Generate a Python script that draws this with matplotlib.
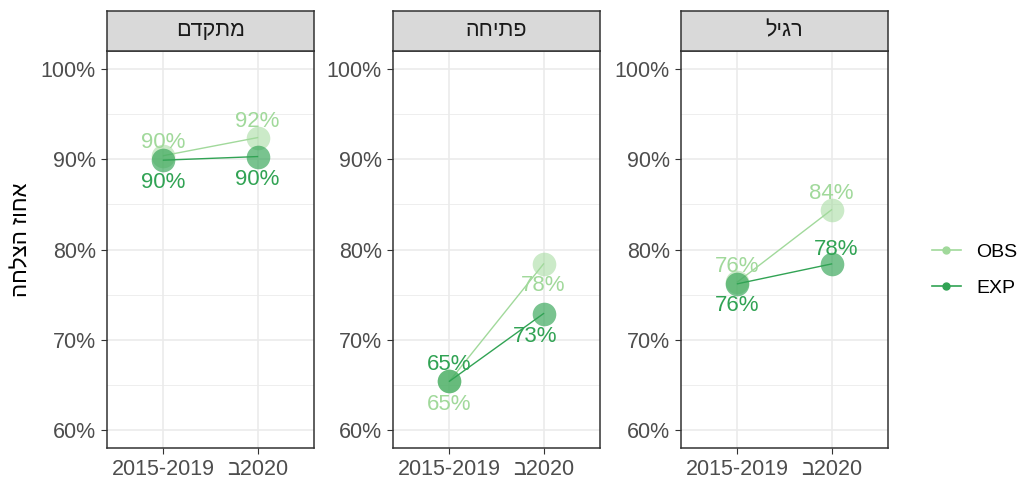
"""Success rate by track: observed vs expected, 2015-2019 vs 2020."""

import matplotlib
matplotlib.use("Agg")
import matplotlib.pyplot as plt
from matplotlib.lines import Line2D

plt.rcParams["font.family"] = ["Liberation Sans", "DejaVu Sans"]

# data (Hebrew strings stored in logical order)
panels = ["מתקדם", "פתיחה", "רגיל"]
periods = ["2015-2019", "\u05d1" + "2020"]  # "ב2020", drawn as-is like the reference
obs = [[90.4, 92.4], [65.4, 78.4], [76.4, 84.4]]
exp = [[89.9, 90.3], [65.4, 72.9], [76.2, 78.4]]
y_ticks = [60, 70, 80, 90, 100]
y_title = "אחוז הצלחה"

# label nudges in pixels (dx, dy), positive dy = downwards
obs_nudge = [[(0, -13), (0, -16)], [(0, 23), (0, 22)], [(0, -15), (0, -16)]]
exp_nudge = [[(0, 22), (0, 23)], [(0, -17), (-8, 23)], [(0, 22), (5, -14)]]

C_OBS = "#a1d99b"
C_EXP = "#31a354"
GRID = "#ebebeb"
TXT = "#4d4d4d"

W, H = 1028, 482
fig = plt.figure(figsize=(W / 100, H / 100), dpi=100)

lefts = [107, 393, 681]
pw = 207
top, bottom, strip_top = 51, 448, 11


def rtl(s):
    # matplotlib has no bidi: reverse so it reads right-to-left
    return s[::-1]


for k, name in enumerate(panels):
    ax = fig.add_axes([lefts[k] / W, 1 - bottom / H, pw / W, (bottom - top) / H])
    ax.set_xlim(0.4, 2.6)
    ax.set_ylim(58, 102)
    for y in range(65, 100, 10):
        ax.axhline(y, color=GRID, lw=0.6, zorder=0)
    for y in y_ticks:
        ax.axhline(y, color=GRID, lw=1.2, zorder=0)
    for x in (1, 2):
        ax.axvline(x, color=GRID, lw=1.2, zorder=0)

    xs = [1, 2]
    ax.plot(xs, obs[k], color=C_OBS, lw=1.0, zorder=2)
    ax.plot(xs, obs[k], "o", color=C_OBS, ms=17, alpha=0.55, mec="none", zorder=2)
    ax.plot(xs, exp[k], color=C_EXP, lw=1.0, zorder=3)
    ax.plot(xs, exp[k], "o", color=C_EXP, ms=17, alpha=0.65, mec="none", zorder=3)

    for vals, nud, col in ((obs[k], obs_nudge[k], C_OBS), (exp[k], exp_nudge[k], C_EXP)):
        for x, v, (dx, dy) in zip(xs, vals, nud):
            ax.annotate(f"{round(v)}%", (x, v), xytext=(dx * 0.72, -dy * 0.72),
                        textcoords="offset points", ha="center", va="center",
                        color=col, fontsize=16, zorder=4)

    ax.set_yticks(y_ticks)
    ax.set_yticklabels([f"{t}%" for t in y_ticks])
    ax.set_xticks(xs)
    ax.set_xticklabels(periods)
    ax.tick_params(colors="#333333", labelcolor=TXT, labelsize=15.5, length=4,
                   width=0.8, pad=4)
    for s in ax.spines.values():
        s.set_color("#333333")
        s.set_linewidth(1.1)

    # facet strip
    sax = fig.add_axes([lefts[k] / W, 1 - top / H, pw / W, (top - strip_top) / H])
    sax.set_xticks([])
    sax.set_yticks([])
    sax.set_facecolor("#d9d9d9")
    for s in sax.spines.values():
        s.set_color("#333333")
        s.set_linewidth(1.1)
    sax.text(0.5, 0.5, rtl(name), ha="center", va="center", fontsize=15.5,
             color="#1a1a1a", transform=sax.transAxes)

fig.text(22 / W, 1 - 240 / H, rtl(y_title), rotation=90, ha="center", va="center",
         fontsize=16, color="black")

handles = [
    Line2D([], [], color=C_OBS, marker="o", ms=5, lw=1.2, label="OBS"),
    Line2D([], [], color=C_EXP, marker="o", ms=5, lw=1.2, label="EXP"),
]
fig.legend(handles=handles, loc="center left", bbox_to_anchor=(914 / W, 1 - 270 / H),
           frameon=False, fontsize=14, handlelength=1.5, labelspacing=0.95,
           handletextpad=0.8)

fig.savefig("out.png", dpi=100)
